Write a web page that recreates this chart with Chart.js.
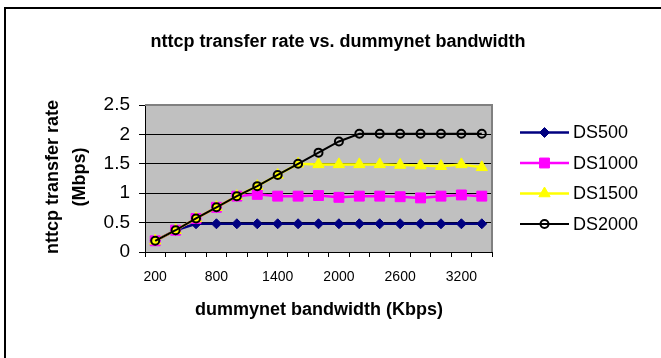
<!DOCTYPE html>
<html>
<head>
<meta charset="utf-8">
<title>nttcp transfer rate vs. dummynet bandwidth</title>
<script src="https://cdn.jsdelivr.net/npm/chart.js@4.4.1/dist/chart.umd.min.js"></script>
<style>
  html, body { margin: 0; padding: 0; background: #fff; overflow: hidden; }
  #frame {
    position: absolute; left: 4px; top: 7px; width: 720px; height: 420px;
    border: 2px solid #000; box-sizing: border-box;
  }
  #rateChart { position: absolute; left: 0; top: 0; }
</style>
</head>
<body>
<div id="frame"></div>
<canvas id="rateChart" width="661" height="358"></canvas>
<script>
// dummynet bandwidth settings (Kbps)
const bandwidth = [200, 400, 600, 800, 1000, 1200, 1400, 1600, 1800, 2000, 2200, 2400, 2600, 2800, 3000, 3200, 3400];

// nttcp transfer rate (Mbps) per DS setting
const ds500  = [0.19, 0.37, 0.48, 0.48, 0.48, 0.48, 0.48, 0.48, 0.48, 0.48, 0.48, 0.48, 0.48, 0.48, 0.48, 0.48, 0.48];
const ds1000 = [0.19, 0.37, 0.57, 0.76, 0.95, 0.98, 0.95, 0.95, 0.96, 0.93, 0.95, 0.95, 0.94, 0.92, 0.95, 0.97, 0.95];
const ds1500 = [0.19, 0.37, 0.57, 0.76, 0.95, 1.12, 1.31, 1.50, 1.49, 1.49, 1.49, 1.49, 1.48, 1.47, 1.46, 1.49, 1.44];
const ds2000 = [0.19, 0.37, 0.57, 0.76, 0.95, 1.12, 1.31, 1.50, 1.69, 1.88, 2.01, 2.01, 2.01, 2.01, 2.01, 2.01, 2.01];

const yTicks = [0, 0.5, 1, 1.5, 2, 2.5];

const FONT = '"Liberation Sans", Arial, sans-serif';

// gray plot area with a darker frame on top and right
const plotFrame = {
    id: 'plotFrame',
    beforeDraw(chart) {
        const { ctx, chartArea: a } = chart;
        ctx.save();
        ctx.fillStyle = '#c0c0c0';
        ctx.fillRect(a.left, a.top, a.right - a.left, a.bottom - a.top);
        ctx.restore();
    },
    beforeDatasetsDraw(chart) {
        const { ctx, chartArea: a } = chart;
        ctx.save();
        ctx.strokeStyle = '#808080';
        ctx.lineWidth = 2;
        ctx.beginPath();
        ctx.moveTo(a.left, a.top);
        ctx.lineTo(a.right, a.top);
        ctx.lineTo(a.right, a.bottom);
        ctx.stroke();
        ctx.restore();
    }
};

// titles and the line+marker legend on the right
const chartText = {
    id: 'chartText',
    afterDraw(chart) {
        const ctx = chart.ctx;
        ctx.save();
        ctx.fillStyle = '#000';
        ctx.textAlign = 'center';
        ctx.textBaseline = 'middle';
        ctx.font = 'bold 18px ' + FONT;
        ctx.fillText('nttcp transfer rate vs. dummynet bandwidth', 338, 42);
        ctx.fillText('dummynet bandwidth (Kbps)', 319, 310);

        ctx.save();
        ctx.translate(53, 177);
        ctx.rotate(-Math.PI / 2);
        ctx.fillText('nttcp transfer rate', 0, 0);
        ctx.fillText('(Mbps)', 0, 27);
        ctx.restore();

        ctx.textAlign = 'left';
        ctx.font = '18px ' + FONT;
        chart.data.datasets.forEach((ds, i) => {
            const y = 132.5 + i * 30.5;
            ctx.strokeStyle = ds.borderColor;
            ctx.lineWidth = ds.borderWidth;
            ctx.beginPath();
            ctx.moveTo(520, y);
            ctx.lineTo(569, y);
            ctx.stroke();

            ctx.fillStyle = ds.pointBackgroundColor;
            ctx.strokeStyle = ds.pointBorderColor;
            ctx.lineWidth = ds.pointBorderWidth;
            Chart.helpers.drawPoint(ctx, {
                pointStyle: ds.pointStyle,
                radius: ds.pointRadius,
                borderWidth: ds.pointBorderWidth,
                rotation: 0
            }, 544.5, y);

            ctx.fillStyle = '#000';
            ctx.fillText(ds.label, 573, y + 1);
        });
        ctx.restore();
    }
};

// every third bandwidth value carries a visible label
const labelShown = (index) => index % 3 === 0;

const ctx = document.getElementById('rateChart').getContext('2d');
new Chart(ctx, {
    type: 'line',
    data: {
        labels: bandwidth,
        datasets: [
            {
                label: 'DS500', data: ds500, order: 3,
                borderColor: '#000080', borderWidth: 2.5,
                pointStyle: 'rectRot', pointRadius: 5,
                pointBackgroundColor: '#000080', pointBorderColor: '#000080', pointBorderWidth: 1
            },
            {
                label: 'DS1000', data: ds1000, order: 2,
                borderColor: '#ff00ff', borderWidth: 2.5,
                pointStyle: 'rect', pointRadius: 7,
                pointBackgroundColor: '#ff00ff', pointBorderColor: '#ff00ff', pointBorderWidth: 1
            },
            {
                label: 'DS1500', data: ds1500, order: 1,
                borderColor: '#ffff00', borderWidth: 2.5,
                pointStyle: 'triangle', pointRadius: 6.5,
                pointBackgroundColor: '#ffff00', pointBorderColor: '#ffff00', pointBorderWidth: 1
            },
            {
                label: 'DS2000', data: ds2000, order: 0,
                borderColor: '#000000', borderWidth: 2,
                pointStyle: 'circle', pointRadius: 4,
                pointBackgroundColor: 'rgba(0,0,0,0)', pointBorderColor: '#000000', pointBorderWidth: 2
            }
        ]
    },
    options: {
        responsive: false,
        animation: false,
        events: [],
        layout: { padding: { left: 0, top: 105, right: 169, bottom: 46 } },
        plugins: {
            legend: { display: false },
            title: { display: false },
            tooltip: { enabled: false }
        },
        elements: { line: { tension: 0 } },
        scales: {
            x: {
                type: 'category',
                offset: true,
                afterFit: (scale) => { scale.height = 60; },
                grid: {
                    offset: true,
                    drawOnChartArea: false,
                    drawTicks: true,
                    tickLength: 5,
                    color: '#000'
                },
                border: { color: '#000', width: 1 },
                ticks: {
                    autoSkip: false,
                    maxRotation: 0,
                    padding: 12,
                    font: { family: FONT, size: 14 },
                    color: (c) => (labelShown(c.index) ? '#000' : 'rgba(0,0,0,0)'),
                    callback: (value, index) => String(bandwidth[index])
                }
            },
            y: {
                min: 0,
                max: 2.5,
                afterFit: (scale) => { scale.width = 145; },
                afterBuildTicks: (scale) => { scale.ticks = yTicks.map(v => ({ value: v })); },
                grid: {
                    color: (c) => (c.tick && c.tick.value === 2.5 ? 'rgba(0,0,0,0)' : '#000'),
                    tickColor: '#000',
                    lineWidth: 1,
                    tickLength: 6,
                    drawTicks: true
                },
                border: { color: '#000', width: 1 },
                ticks: {
                    padding: 9,
                    color: '#000',
                    font: { family: FONT, size: 19 },
                    callback: (value) => String(value)
                }
            }
        }
    },
    plugins: [plotFrame, chartText]
});
</script>
</body>
</html>
